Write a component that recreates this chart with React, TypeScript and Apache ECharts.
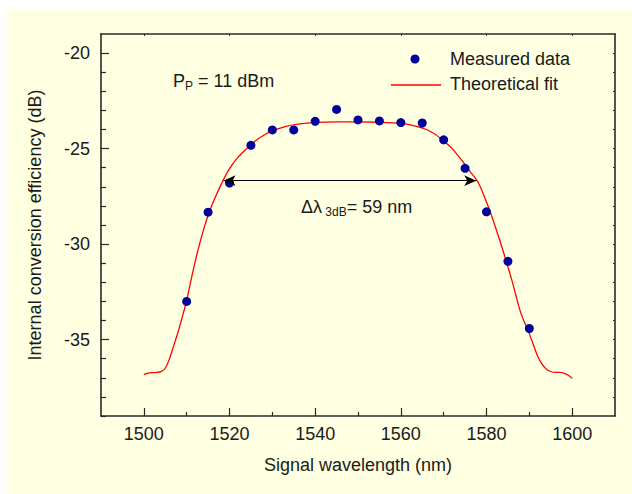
import React, { useEffect, useRef } from "react";
import * as echarts from "echarts";

const measuredX = [1510, 1515, 1520, 1525, 1530, 1535, 1540, 1545, 1550, 1555, 1560, 1565, 1570, 1575, 1580, 1585, 1590];
const measuredY = [-33.0, -28.33, -26.8, -24.83, -24.02, -24.02, -23.57, -22.95, -23.5, -23.55, -23.64, -23.66, -24.54, -26.03, -28.31, -30.9, -34.42];

const fitX = [1500, 1501, 1502, 1503, 1504, 1505, 1506, 1507, 1508, 1509, 1510, 1511, 1512, 1513, 1514, 1515, 1516, 1518, 1520, 1522, 1524, 1526, 1528, 1530, 1533, 1536, 1540, 1545, 1550, 1555, 1560, 1563, 1566, 1568, 1570, 1572, 1574, 1576, 1578, 1580, 1582, 1584, 1586, 1588, 1590, 1591, 1592, 1593, 1594, 1595, 1596, 1597, 1598, 1599, 1600];
const fitY = [-36.83, -36.76, -36.73, -36.72, -36.68, -36.5, -36.0, -35.3, -34.6, -33.8, -32.95, -31.9, -30.9, -30.0, -29.2, -28.5, -27.9, -26.9, -26.05, -25.45, -25.0, -24.6, -24.3, -24.07, -23.85, -23.72, -23.63, -23.6, -23.6, -23.62, -23.68, -23.8, -24.0, -24.25, -24.6, -25.0, -25.55, -26.15, -26.75, -27.8, -29.05, -30.45, -31.95, -33.6, -34.7, -35.3, -35.9, -36.3, -36.55, -36.67, -36.72, -36.72, -36.75, -36.85, -37.02];

const xMajorTicks = [1500, 1520, 1540, 1560, 1580, 1600];
const xMinorTicks = [1510, 1530, 1550, 1570, 1590];
const yMajorTicks = [-35, -30, -25, -20];
const yMinorTicks = [-39, -38, -37, -36, -34, -33, -32, -31, -29, -28, -27, -26, -24, -23, -22, -21];
const yAllTicks = [-38, -37, -36, -35, -34, -33, -32, -31, -30, -29, -28, -27, -26, -25, -24, -23, -22, -21, -20];

const arrowStartX = 1518.6;
const arrowEndX = 1577.6;
const arrowY = -26.68;

const FONT = "'Liberation Sans', Arial, Helvetica, sans-serif";
const TXT = "#1a1a1a";
const AX = "#2a2a2a";
const BG = "#FFFFE1";
const DOT = "#00009a";

export default function App() {
  const ref = useRef<HTMLDivElement>(null);
  useEffect(() => {
    if (!ref.current) return;
    const chart = echarts.init(ref.current, undefined, { renderer: "svg" });
    const xBase = { type: "value", min: 1490, max: 1610, gridIndex: 0 };
    const yBase = { type: "value", min: -39, max: -19, gridIndex: 0 };
    const fmt = (v: number) => String(v);
    chart.setOption({
      animation: false,
      backgroundColor: "#ffffff",
      textStyle: { fontFamily: FONT },
      grid: { left: 101, top: 34, right: 17, bottom: 78, containLabel: false },
      xAxis: [
        {
          ...xBase,
          position: "bottom",
          name: "Signal wavelength (nm)",
          nameLocation: "middle",
          nameGap: 40,
          nameTextStyle: { fontSize: 18, color: TXT, fontFamily: FONT },
          axisLine: { show: true, onZero: false, lineStyle: { color: AX, width: 1.6 } },
          axisTick: { show: true, inside: true, length: 8, customValues: xMajorTicks, lineStyle: { color: AX, width: 1.2 } },
          axisLabel: { show: true, customValues: xMajorTicks, formatter: fmt, fontSize: 18, color: TXT, margin: 9, fontFamily: FONT },
          splitLine: { show: false },
        },
        {
          ...xBase,
          position: "bottom",
          axisLine: { show: false, onZero: false },
          axisTick: { show: true, inside: true, length: 4, customValues: xMinorTicks, lineStyle: { color: AX, width: 1.2 } },
          axisLabel: { show: false },
          splitLine: { show: false },
        },
        {
          ...xBase,
          position: "top",
          axisLine: { show: true, onZero: false, lineStyle: { color: AX, width: 1.6 } },
          axisTick: { show: true, inside: true, length: 2, customValues: xMajorTicks, lineStyle: { color: AX, width: 1 } },
          axisLabel: { show: false },
          splitLine: { show: false },
        },
      ],
      yAxis: [
        {
          ...yBase,
          position: "left",
          name: "Internal conversion efficiency (dB)",
          nameLocation: "middle",
          nameGap: 57,
          nameTextStyle: { fontSize: 18, color: TXT, fontFamily: FONT },
          axisLine: { show: true, onZero: false, lineStyle: { color: AX, width: 1.6 } },
          axisTick: { show: true, inside: true, length: 8, customValues: yMajorTicks, lineStyle: { color: AX, width: 1.2 } },
          axisLabel: { show: true, customValues: yMajorTicks, formatter: fmt, fontSize: 18, color: TXT, margin: 11, fontFamily: FONT },
          splitLine: { show: false },
        },
        {
          ...yBase,
          position: "left",
          axisLine: { show: false, onZero: false },
          axisTick: { show: true, inside: true, length: 5, customValues: yMinorTicks, lineStyle: { color: AX, width: 1.2 } },
          axisLabel: { show: false },
          splitLine: { show: false },
        },
        {
          ...yBase,
          position: "right",
          axisLine: { show: true, onZero: false, lineStyle: { color: AX, width: 1.6 } },
          axisTick: { show: true, inside: true, length: 2, customValues: yAllTicks, lineStyle: { color: AX, width: 1 } },
          axisLabel: { show: false },
          splitLine: { show: false },
        },
      ],
      graphic: [
        { type: "rect", z: -100, silent: true, shape: { x: 7, y: 10, width: 625, height: 484 }, style: { fill: BG } },
        { type: "circle", shape: { cx: 415, cy: 59, r: 4.5 }, style: { fill: DOT } },
        { type: "text", x: 450, y: 59, style: { text: "Measured data", fontSize: 18, fill: TXT, fontFamily: FONT, verticalAlign: "middle" } },
        { type: "line", shape: { x1: 391, y1: 85, x2: 441, y2: 85 }, style: { stroke: "#ff0000", lineWidth: 1.3 } },
        { type: "text", x: 450, y: 84, style: { text: "Theoretical fit", fontSize: 18, fill: TXT, fontFamily: FONT, verticalAlign: "middle" } },
        {
          type: "text",
          x: 173,
          y: 81,
          style: {
            text: "{a|P}{b|P}{a| = 11 dBm}",
            fontFamily: FONT,
            verticalAlign: "middle",
            fill: TXT,
            rich: {
              a: { fontSize: 18, lineHeight: 22, fill: TXT, fontFamily: FONT },
              b: { fontSize: 12, lineHeight: 16, fill: TXT, fontFamily: FONT, verticalAlign: "bottom" },
            },
          },
        },
        {
          type: "text",
          x: 301,
          y: 207,
          style: {
            text: "{a|Δλ}{b| 3dB}{a|= 59 nm}",
            fontFamily: FONT,
            verticalAlign: "middle",
            fill: TXT,
            rich: {
              a: { fontSize: 18, lineHeight: 22, fill: TXT, fontFamily: FONT },
              b: { fontSize: 12, lineHeight: 16, fill: TXT, fontFamily: FONT, verticalAlign: "bottom" },
            },
          },
        },
      ],
      series: [
        {
          name: "Theoretical fit",
          type: "line",
          xAxisIndex: 0,
          yAxisIndex: 0,
          data: fitX.map((x, i) => [x, fitY[i]]),
          showSymbol: false,
          symbol: "none",
          smooth: 0.3,
          lineStyle: { color: "#ff0000", width: 1.3 },
          z: 3,
          markLine: {
            silent: true,
            symbol: ["arrow", "arrow"],
            symbolSize: [8, 12],
            label: { show: false },
            lineStyle: { color: "#000000", width: 1, type: "solid" },
            data: [[{ coord: [arrowStartX, arrowY] }, { coord: [arrowEndX, arrowY] }]],
          },
        },
        {
          name: "Measured data",
          type: "scatter",
          xAxisIndex: 0,
          yAxisIndex: 0,
          data: measuredX.map((x, i) => [x, measuredY[i]]),
          symbol: "circle",
          symbolSize: 9,
          itemStyle: { color: DOT, opacity: 1 },
          z: 4,
        },
      ],
    });
    return () => chart.dispose();
  }, []);
  return <div ref={ref} style={{ position: "absolute", left: 0, top: 0, width: 632, height: 494 }} />;
}
